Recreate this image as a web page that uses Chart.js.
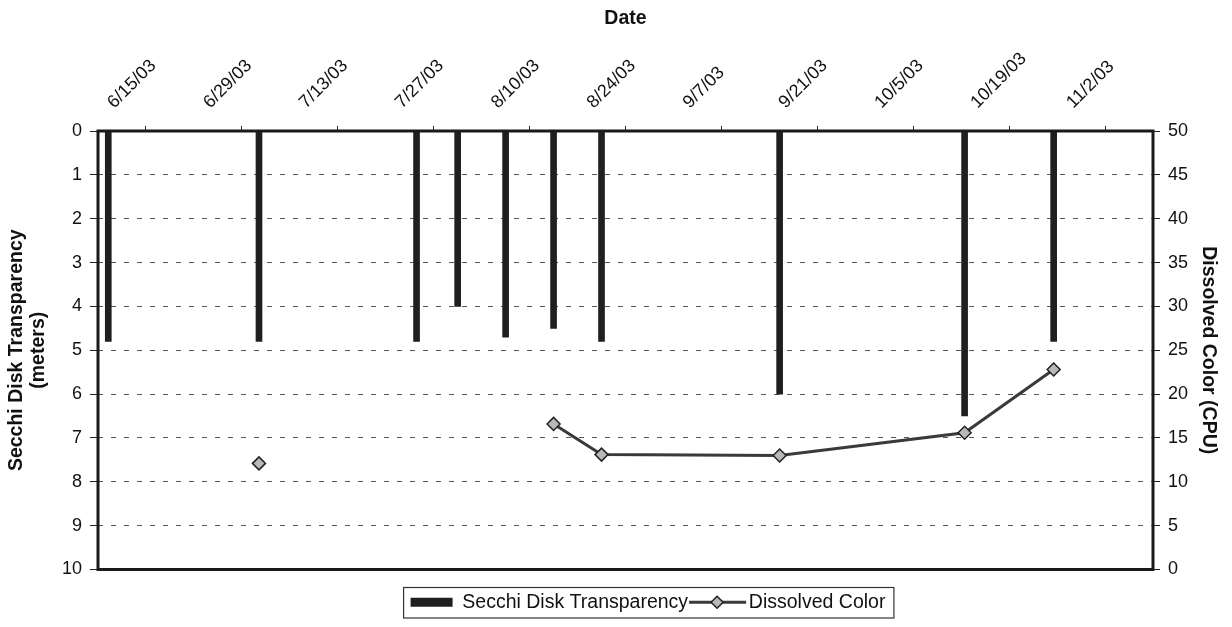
<!DOCTYPE html>
<html>
<head>
<meta charset="utf-8">
<title>Secchi Disk Transparency and Dissolved Color</title>
<script src="https://cdn.jsdelivr.net/npm/chart.js@4.4.1/dist/chart.umd.min.js"></script>
<style>
  html, body { margin: 0; padding: 0; background: #fff; }
</style>
</head>
<body>
<canvas id="chart" width="1232" height="627"></canvas>
<script>
// sampling dates and readings
const sampleDates = ['6/16/03', '7/8/03', '7/31/03', '8/6/03', '8/13/03', '8/20/03', '8/27/03', '9/22/03', '10/19/03', '11/1/03'];
const secchiDepth = [4.8, 4.8, 4.8, 4.0, 4.7, 4.5, 4.8, 6.0, 6.5, 4.8];          // meters
const dissolvedColor = [null, 12.1, null, null, null, 16.6, 13.1, 13.0, 15.6, 22.8]; // CPU

// axis labels
const dateTicks = ['6/15/03', '6/29/03', '7/13/03', '7/27/03', '8/10/03', '8/24/03', '9/7/03', '9/21/03', '10/5/03', '10/19/03', '11/2/03'];
const axisEnd = '11/16/03';

function dayOf(s) {
  const p = s.split('/').map(Number);
  return Date.UTC(2000 + p[2], p[0] - 1, p[1]) / 86400000;
}
const day0 = dayOf(dateTicks[0]);
// excel puts each mark in the middle of its day
const xOf = s => dayOf(s) - day0 + 0.5;

Chart.defaults.font.family = '"Liberation Sans", Arial, sans-serif';
Chart.defaults.color = '#111';

const titleFont = { size: 19.5, weight: 'bold', lineHeight: 1.1 };
const tickFont = { size: 18 };

const framePlugin = {
  id: 'frame',
  afterLayout(chart) {
    // centre the legend under the plot like the original
    const lg = chart.legend;
    const dx = 648 - (lg.left + lg.right) / 2;
    lg.left += dx;
    lg.right += dx;
  },
  afterDraw(chart) {
    const { ctx, chartArea: a } = chart;
    ctx.save();
    ctx.strokeStyle = '#1a1a1a';
    ctx.lineWidth = 3;
    ctx.strokeRect(a.left, a.top, a.right - a.left, a.bottom - a.top);

    const boxes = chart.legend.legendHitBoxes;
    if (boxes && boxes.length) {
      const first = boxes[0], last = boxes[boxes.length - 1];
      ctx.lineWidth = 1.2;
      ctx.strokeStyle = '#333';
      ctx.strokeRect(first.left - 7, first.top - 5, last.left + last.width + 8.5 - (first.left - 7), first.height + 11);

      // line + diamond for the dissolved color entry
      const hb = boxes[1];
      const cy = hb.top + hb.height / 2;
      ctx.strokeStyle = '#3a3a3a';
      ctx.lineWidth = 3;
      ctx.beginPath();
      ctx.moveTo(hb.left - 8, cy);
      ctx.lineTo(hb.left + 49, cy);
      ctx.stroke();
      const cx = hb.left + 20, r = 6;
      ctx.beginPath();
      ctx.moveTo(cx, cy - r);
      ctx.lineTo(cx + r, cy);
      ctx.lineTo(cx, cy + r);
      ctx.lineTo(cx - r, cy);
      ctx.closePath();
      ctx.fillStyle = '#b8b8b8';
      ctx.fill();
      ctx.lineWidth = 1.5;
      ctx.strokeStyle = '#222';
      ctx.stroke();
    }
    ctx.restore();
  }
};

new Chart(document.getElementById('chart'), {
  type: 'bar',
  data: {
    datasets: [
      {
        label: 'Secchi Disk Transparency',
        data: sampleDates.map((d, i) => ({ x: xOf(d), y: secchiDepth[i] })),
        yAxisID: 'y',
        xAxisID: 'x',
        backgroundColor: '#1f1f1f',
        barThickness: 6
      },
      {
        type: 'line',
        label: 'Dissolved Color',
        data: sampleDates.map((d, i) => ({ x: xOf(d), y: dissolvedColor[i] })),
        yAxisID: 'y1',
        xAxisID: 'x',
        borderColor: '#3a3a3a',
        borderWidth: 3,
        backgroundColor: '#b8b8b8',
        pointStyle: 'rectRot',
        pointRadius: 6.5,
        pointBorderWidth: 1.5,
        pointBorderColor: '#222',
        pointBackgroundColor: '#b8b8b8',
        spanGaps: false,
        tension: 0
      }
    ]
  },
  options: {
    responsive: false,
    animation: false,
    layout: { padding: { top: 0, left: 0, right: 0, bottom: 5 } },
    plugins: {
      tooltip: { enabled: false },
      legend: {
        position: 'bottom',
        labels: {
          font: { size: 19.5 },
          color: '#111',
          boxWidth: 42,
          boxHeight: 9,
          padding: 9,
          generateLabels(chart) {
            const items = Chart.defaults.plugins.legend.labels.generateLabels(chart);
            items[1].fillStyle = 'rgba(0,0,0,0)';
            items[1].strokeStyle = 'rgba(0,0,0,0)';
            items[1].lineWidth = 0;
            return items;
          }
        }
      }
    },
    scales: {
      x: {
        type: 'linear',
        position: 'top',
        min: 0,
        max: dayOf(axisEnd) - day0,
        offset: false,
        afterFit(s) { s.height = 131; },
        title: { display: true, text: 'Date', font: titleFont, padding: { top: 8, bottom: 0 } },
        border: { display: false },
        grid: { drawOnChartArea: false, tickLength: 5, tickColor: '#222', lineWidth: 1 },
        ticks: {
          stepSize: 14,
          autoSkip: false,
          maxRotation: 45,
          minRotation: 45,
          padding: 13,
          labelOffset: 28,
          font: tickFont,
          callback: (v, i) => dateTicks[i] || ''
        }
      },
      x2: {
        type: 'linear',
        position: 'bottom',
        min: 0,
        max: dayOf(axisEnd) - day0,
        afterFit(s) { s.height = 14; },
        border: { display: false },
        grid: { display: false },
        ticks: { display: false }
      },
      y: {
        position: 'left',
        reverse: true,
        min: 0,
        max: 10,
        afterFit(s) { s.width = 98; },
        title: { display: true, text: ['Secchi Disk Transparency', '(meters)'], font: titleFont, padding: { top: 6, bottom: 0 } },
        border: { display: false, dash: [5, 8] },
        grid: { color: '#555', lineWidth: 1, tickLength: 8, tickColor: '#222', tickBorderDash: [] },
        ticks: { stepSize: 1, padding: 8, font: tickFont }
      },
      y1: {
        position: 'right',
        min: 0,
        max: 50,
        afterFit(s) { s.width = 79; },
        title: { display: true, text: 'Dissolved Color (CPU)', font: titleFont, padding: { top: 13, bottom: 0 } },
        border: { display: false },
        grid: { drawOnChartArea: false, tickLength: 7, tickColor: '#222' },
        ticks: { stepSize: 5, padding: 8, font: tickFont }
      }
    }
  },
  plugins: [framePlugin]
});
</script>
</body>
</html>
